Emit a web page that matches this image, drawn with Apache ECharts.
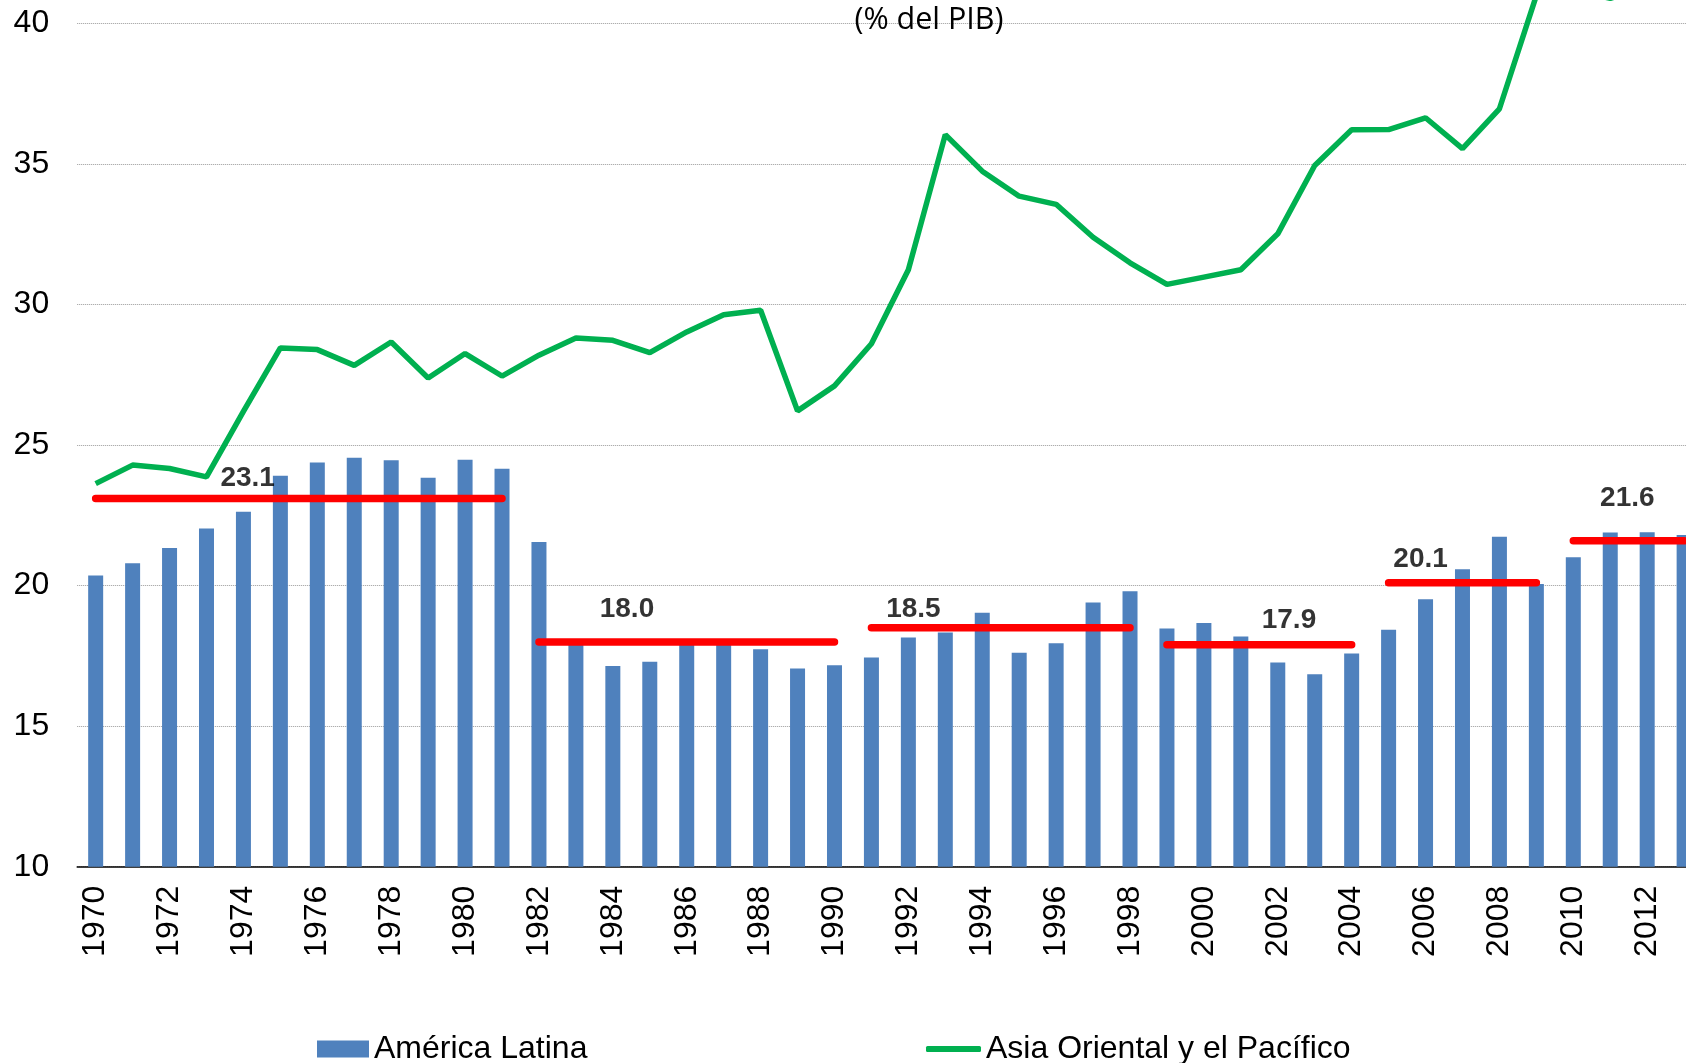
<!DOCTYPE html>
<html>
<head>
<meta charset="utf-8">
<script src="https://cdn.jsdelivr.net/npm/echarts@6/dist/echarts.min.js"></script>
<style>
  html, body { margin: 0; padding: 0; background: #fff; }
  #main { width: 1686px; height: 1063px; }
</style>
</head>
<body>
<div id="main"></div>
<script>
// años
var years = ['1970','1971','1972','1973','1974','1975','1976','1977','1978','1979',
  '1980','1981','1982','1983','1984','1985','1986','1987','1988','1989',
  '1990','1991','1992','1993','1994','1995','1996','1997','1998','1999',
  '2000','2001','2002','2003','2004','2005','2006','2007','2008','2009',
  '2010','2011','2012','2013'];

// América Latina (barras)
var latam = [20.36, 20.80, 21.34, 22.03, 22.63, 23.91, 24.38, 24.55, 24.46, 23.84,
  24.48, 24.16, 21.55, 17.90, 17.14, 17.29, 17.95, 17.95, 17.74, 17.05,
  17.17, 17.44, 18.16, 18.33, 19.04, 17.61, 17.95, 19.40, 19.80, 18.48,
  18.67, 18.19, 17.27, 16.85, 17.59, 18.43, 19.52, 20.58, 21.74, 20.06,
  21.01, 21.89, 21.90, 21.80];

// Asia Oriental y el Pacífico (linea)
var asia = [23.63, 24.29, 24.17, 23.87, 26.20, 28.46, 28.40, 27.84, 28.67, 27.39,
  28.26, 27.46, 28.20, 28.81, 28.73, 28.29, 29.03, 29.64, 29.80, 26.22,
  27.11, 28.61, 31.24, 36.05, 34.75, 33.86, 33.57, 32.40, 31.49, 30.72,
  30.98, 31.24, 32.52, 34.95, 36.22, 36.23, 36.65, 35.55, 36.97, 41.00,
  41.20, 40.90, 41.30, 41.50];

// promedios por periodo (lineas rojas)
var segStart = ['1970', '1982', '1991', '1999', '2005', '2010'];
var segEnd   = ['1981', '1990', '1998', '2004', '2009', '2013'];
var segAvg   = [23.1, 18.0, 18.5, 17.9, 20.1, 21.6];

// desplazamiento de las etiquetas (px) respecto al inicio de cada tramo
var labelOffset = [[152, -20], [88, -33], [42, -19], [122, -24], [32, -24], [54, -42]];

var myChart = echarts.init(document.getElementById('main'));

var series = [
  {
    name: 'América Latina',
    type: 'bar',
    data: latam,
    barWidth: 15,
    itemStyle: { color: '#4F81BD' },
    z: 2
  },
  {
    name: 'Asia Oriental y el Pacífico',
    type: 'line',
    data: asia,
    symbol: 'none',
    lineStyle: { color: '#00B050', width: 5.5 },
    itemStyle: { color: '#00B050' },
    z: 4
  }
];

// un tramo rojo por periodo
segAvg.forEach(function (avg, i) {
  var a = years.indexOf(segStart[i]);
  var b = years.indexOf(segEnd[i]);
  var d = years.map(function (y, k) { return (k >= a && k <= b) ? avg : '-'; });
  series.push({
    name: 'prom' + i,
    type: 'line',
    data: d,
    symbol: 'none',
    lineStyle: { color: '#FF0000', width: 7.5, cap: 'round' },
    z: 5,
    silent: true
  });
});

// etiquetas de los promedios
series.push({
  name: 'etiquetas',
  type: 'scatter',
  symbolSize: 0,
  z: 6,
  data: segAvg.map(function (avg, i) {
    return {
      value: [years.indexOf(segStart[i]), avg],
      label: { offset: labelOffset[i] }
    };
  }),
  label: {
    show: true,
    position: 'inside',
    formatter: function (p) { return p.value[1].toFixed(1); },
    color: '#000',
    fontFamily: 'Liberation Sans',
    fontWeight: 'bold',
    fontSize: 28
  }
});

var legendText = { fontFamily: 'Liberation Sans', fontSize: 32, color: '#000' };

var option = {
  backgroundColor: '#fff',
  animation: false,
  textStyle: { fontFamily: 'Liberation Sans' },
  graphic: [{
    type: 'text',
    x: 929,
    y: 20,
    style: {
      text: '(% del PIB)',
      textAlign: 'center',
      textVerticalAlign: 'middle',
      fontFamily: 'Open Sans',
      fontSize: 30.5,
      fill: '#000'
    },
    z: 10
  }],
  legend: [
    {
      data: [{ name: 'América Latina', icon: 'rect' }],
      left: 317,
      top: 1033,
      padding: 0,
      itemWidth: 52,
      itemHeight: 17,
      textStyle: legendText
    },
    {
      data: [{ name: 'Asia Oriental y el Pacífico', icon: 'roundRect' }],
      left: 926,
      top: 1033,
      padding: 0,
      itemWidth: 55,
      itemHeight: 6,
      textStyle: legendText
    }
  ],
  grid: {
    left: 77.2,
    right: -16.6,
    top: -116.9,
    bottom: 196.3,
    containLabel: false,
    outerBoundsMode: 'none'
  },
  xAxis: {
    type: 'category',
    data: years,
    boundaryGap: true,
    axisLine: { show: true, lineStyle: { color: '#000', width: 1.5 } },
    axisTick: { show: false },
    axisLabel: {
      interval: 1,
      rotate: 90,
      margin: 19,
      fontSize: 32,
      color: '#000',
      fontFamily: 'Liberation Sans'
    },
    splitLine: { show: false }
  },
  yAxis: {
    type: 'value',
    min: 10,
    max: 45,
    interval: 5,
    axisLine: { show: false },
    axisTick: { show: false },
    axisLabel: {
      margin: 28,
      fontSize: 32,
      color: '#000',
      fontFamily: 'Liberation Sans'
    },
    splitLine: { show: true, lineStyle: { color: '#9a9a9a', width: 1, type: 'dotted' } }
  },
  series: series
};

myChart.setOption(option);
</script>
</body>
</html>
